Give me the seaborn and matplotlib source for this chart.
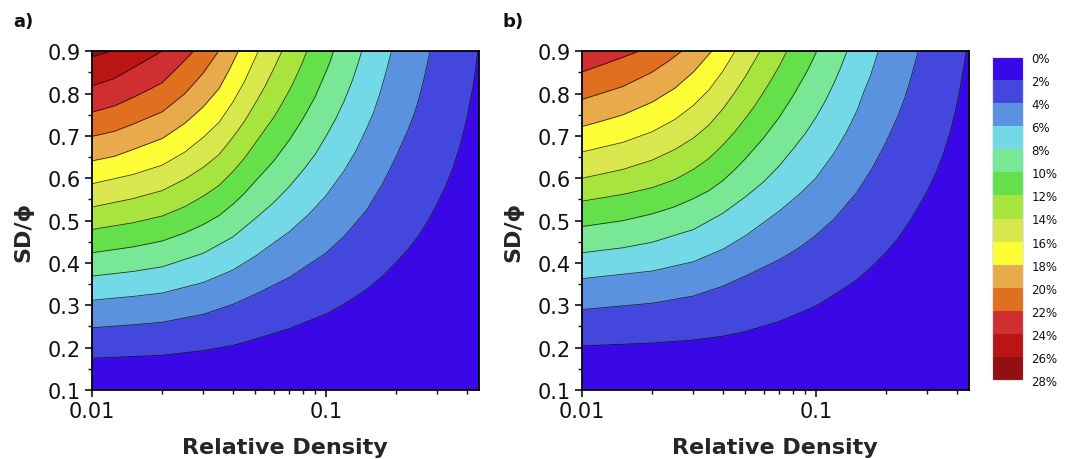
import matplotlib
matplotlib.use("Agg")
import matplotlib.pyplot as plt
import matplotlib.colors as mcolors
import matplotlib.ticker as mticker
from matplotlib.cm import ScalarMappable
import seaborn as sns

# ── Data ──────────────────────────────────────────────────────────────────────
LEVELS = list(range(0, 30, 2))          # 0 % ... 28 %
BAND_COLORS = [
    "#3a08e6", "#4447de", "#5b92e0", "#74d9e6", "#78e897", "#64e04a", "#a8e43e",
    "#d8e84c", "#fefe36", "#e8aa4a", "#e0701f", "#cf2f30", "#bb1414", "#921010",
]
X_MIN, X_MAX = 0.01, 0.452
Y_MIN, Y_MAX = 0.1, 0.9

# panel a) – one contour per level 2 % ... 26 %
A_X = [
    [0.01, 0.015, 0.02, 0.03, 0.04, 0.05, 0.07, 0.1, 0.12, 0.15, 0.175, 0.2, 0.225, 0.25,
     0.275, 0.3, 0.325, 0.35, 0.375, 0.4, 0.415, 0.43, 0.44, 0.447],
    [0.01, 0.015, 0.02, 0.03, 0.04, 0.05, 0.07, 0.1, 0.12, 0.15, 0.175, 0.2, 0.225, 0.24,
     0.25, 0.265, 0.279],
    [0.01, 0.015, 0.02, 0.03, 0.04, 0.05, 0.07, 0.085, 0.1, 0.12, 0.135, 0.15, 0.16, 0.17,
     0.18, 0.191],
    [0.01, 0.015, 0.02, 0.03, 0.04, 0.05, 0.06, 0.07, 0.08, 0.09, 0.1, 0.11, 0.12, 0.13,
     0.136, 0.1425],
    [0.01, 0.015, 0.02, 0.025, 0.03, 0.035, 0.04, 0.045, 0.05, 0.06, 0.07, 0.08, 0.09, 0.1,
     0.104, 0.108],
    [0.01, 0.015, 0.02, 0.025, 0.03, 0.035, 0.04, 0.045, 0.05, 0.055, 0.06, 0.065, 0.07,
     0.075, 0.079, 0.083],
    [0.01, 0.015, 0.02, 0.025, 0.03, 0.035, 0.04, 0.045, 0.05, 0.055, 0.06, 0.065],
    [0.01, 0.015, 0.02, 0.025, 0.03, 0.035, 0.04, 0.045, 0.0515],
    [0.01, 0.0125, 0.015, 0.02, 0.025, 0.03, 0.035, 0.0385, 0.0423],
    [0.01, 0.0125, 0.015, 0.02, 0.025, 0.03, 0.0348],
    [0.01, 0.0125, 0.015, 0.0175, 0.02, 0.0235, 0.0272],
    [0.01, 0.0125, 0.015, 0.0175, 0.0199],
    [0.01, 0.011, 0.012],
]
A_Y = [
    [0.175, 0.179, 0.182, 0.193, 0.205, 0.220, 0.245, 0.279, 0.303, 0.338, 0.369, 0.401,
     0.432, 0.465, 0.501, 0.540, 0.580, 0.625, 0.677, 0.738, 0.784, 0.828, 0.873, 0.9],
    [0.247, 0.254, 0.260, 0.279, 0.302, 0.326, 0.366, 0.423, 0.463, 0.526, 0.587, 0.651,
     0.715, 0.755, 0.787, 0.842, 0.9],
    [0.312, 0.321, 0.329, 0.354, 0.383, 0.416, 0.474, 0.516, 0.558, 0.618, 0.666, 0.719,
     0.755, 0.798, 0.846, 0.9],
    [0.369, 0.380, 0.391, 0.423, 0.461, 0.505, 0.543, 0.581, 0.619, 0.656, 0.698, 0.739,
     0.783, 0.831, 0.863, 0.9],
    [0.424, 0.438, 0.452, 0.471, 0.491, 0.512, 0.538, 0.565, 0.593, 0.641, 0.691, 0.741,
     0.792, 0.850, 0.873, 0.9],
    [0.479, 0.495, 0.511, 0.533, 0.558, 0.583, 0.615, 0.648, 0.683, 0.715, 0.744, 0.776,
     0.808, 0.842, 0.870, 0.9],
    [0.532, 0.552, 0.571, 0.598, 0.626, 0.656, 0.696, 0.735, 0.777, 0.817, 0.859, 0.9],
    [0.587, 0.609, 0.631, 0.662, 0.697, 0.732, 0.779, 0.829, 0.9],
    [0.641, 0.652, 0.668, 0.694, 0.730, 0.769, 0.812, 0.854, 0.9],
    [0.699, 0.711, 0.728, 0.757, 0.800, 0.849, 0.9],
    [0.756, 0.771, 0.791, 0.809, 0.826, 0.864, 0.9],
    [0.818, 0.836, 0.861, 0.882, 0.9],
    [0.887, 0.894, 0.9],
]

# panel b) – one contour per level 2 % ... 22 %
B_X = [
    [0.01, 0.02, 0.03, 0.04, 0.05, 0.07, 0.1, 0.12, 0.15, 0.175, 0.2, 0.225, 0.25, 0.275,
     0.3, 0.325, 0.35, 0.375, 0.4, 0.415, 0.43, 0.44],
    [0.01, 0.02, 0.03, 0.04, 0.05, 0.07, 0.085, 0.1, 0.12, 0.135, 0.15, 0.175, 0.2, 0.225,
     0.24, 0.25, 0.26, 0.274],
    [0.01, 0.02, 0.03, 0.04, 0.05, 0.07, 0.085, 0.1, 0.12, 0.135, 0.15, 0.16, 0.17, 0.178,
     0.185],
    [0.01, 0.015, 0.02, 0.03, 0.04, 0.05, 0.06, 0.07, 0.08, 0.09, 0.1, 0.11, 0.12, 0.128,
     0.136],
    [0.01, 0.015, 0.02, 0.025, 0.03, 0.035, 0.04, 0.045, 0.05, 0.06, 0.07, 0.08, 0.09,
     0.095, 0.101],
    [0.01, 0.015, 0.02, 0.025, 0.03, 0.035, 0.04, 0.045, 0.05, 0.055, 0.06, 0.065, 0.07,
     0.0752],
    [0.01, 0.015, 0.02, 0.025, 0.03, 0.035, 0.04, 0.045, 0.05, 0.0578],
    [0.01, 0.015, 0.02, 0.025, 0.03, 0.035, 0.04, 0.0452],
    [0.01, 0.0125, 0.015, 0.02, 0.025, 0.03, 0.0359],
    [0.01, 0.0125, 0.015, 0.02, 0.0235, 0.0267],
    [0.01, 0.0125, 0.015, 0.0175],
]
B_Y = [
    [0.204, 0.211, 0.218, 0.227, 0.238, 0.262, 0.298, 0.325, 0.360, 0.393, 0.425, 0.458,
     0.495, 0.533, 0.570, 0.610, 0.655, 0.707, 0.770, 0.815, 0.865, 0.9],
    [0.290, 0.305, 0.322, 0.345, 0.369, 0.408, 0.436, 0.465, 0.504, 0.537, 0.567, 0.625,
     0.686, 0.748, 0.789, 0.820, 0.853, 0.9],
    [0.363, 0.381, 0.403, 0.432, 0.464, 0.523, 0.562, 0.600, 0.660, 0.708, 0.759, 0.802,
     0.837, 0.870, 0.9],
    [0.424, 0.436, 0.449, 0.479, 0.517, 0.556, 0.592, 0.630, 0.669, 0.705, 0.743, 0.783,
     0.826, 0.862, 0.9],
    [0.486, 0.500, 0.516, 0.533, 0.552, 0.571, 0.594, 0.620, 0.646, 0.696, 0.745, 0.795,
     0.844, 0.869, 0.9],
    [0.546, 0.562, 0.578, 0.597, 0.621, 0.647, 0.678, 0.709, 0.741, 0.772, 0.804, 0.835,
     0.866, 0.9],
    [0.600, 0.621, 0.643, 0.668, 0.695, 0.726, 0.763, 0.802, 0.840, 0.9],
    [0.662, 0.685, 0.710, 0.739, 0.772, 0.809, 0.852, 0.9],
    [0.722, 0.737, 0.750, 0.780, 0.813, 0.851, 0.9],
    [0.786, 0.803, 0.817, 0.851, 0.877, 0.9],
    [0.851, 0.870, 0.886, 0.9],
]

# ── Style ─────────────────────────────────────────────────────────────────────
sns.set_style("ticks")
plt.rcParams["font.family"] = ["DejaVu Sans"]
plt.rcParams["text.color"] = "#111111"
plt.rcParams["xtick.color"] = "#111111"
plt.rcParams["ytick.color"] = "#111111"

W, H = 1067, 460
fig = plt.figure(figsize=(W / 100, H / 100), dpi=100)
fig.patch.set_facecolor("white")


def px_axes(left, top, right, bottom):
    return [left / W, 1 - bottom / H, (right - left) / W, (bottom - top) / H]


ax_a = fig.add_axes(px_axes(91.7, 52.3, 479, 391))
ax_b = fig.add_axes(px_axes(581.7, 52.3, 969, 391))
cax = fig.add_axes(px_axes(992, 58, 1023, 381))


def draw_panel(ax, xs_list, ys_list):
    ax.set_xscale("log")
    ax.set_facecolor(BAND_COLORS[0])
    # nested filled regions, each one left of / above its contour
    for k, (xs, ys) in enumerate(zip(xs_list, ys_list), start=1):
        ax.fill_betweenx(ys, X_MIN, xs, color=BAND_COLORS[k], lw=0, zorder=1)
    for xs, ys in zip(xs_list, ys_list):
        sns.lineplot(x=xs, y=ys, sort=False, estimator=None, color="black",
                     lw=0.6, alpha=0.75, ax=ax, zorder=2)
    ax.set_xlim(X_MIN, X_MAX)
    ax.set_ylim(Y_MIN, Y_MAX)

    ax.xaxis.set_major_locator(mticker.FixedLocator([0.01, 0.1]))
    ax.xaxis.set_major_formatter(mticker.FixedFormatter(["0.01", "0.1"]))
    ax.xaxis.set_minor_locator(mticker.LogLocator(base=10, subs=range(2, 10)))
    ax.xaxis.set_minor_formatter(mticker.NullFormatter())
    ax.yaxis.set_major_locator(mticker.MultipleLocator(0.1))
    ax.yaxis.set_minor_locator(mticker.MultipleLocator(0.05))
    ax.yaxis.set_major_formatter(mticker.FormatStrFormatter("%.1f"))

    ax.tick_params(which="major", direction="out", length=5, width=1.2,
                   labelsize=15, pad=3, top=False, right=False)
    ax.tick_params(which="minor", direction="out", length=3, width=1.0,
                   top=False, right=False)
    for sp in ax.spines.values():
        sp.set_linewidth(1.3)
        sp.set_color("black")
        sp.set_zorder(5)

    ax.set_xlabel("Relative Density", fontsize=16, fontweight="bold")
    ax.set_ylabel("SD/ϕ", fontsize=16, fontweight="bold")
    ax.xaxis.set_label_coords(0.5, -0.14)
    ax.yaxis.set_label_coords(-0.15, 0.47)


draw_panel(ax_a, A_X, A_Y)
draw_panel(ax_b, B_X, B_Y)

fig.text(13 / W, 1 - 22 / H, "a)", fontsize=13, fontweight="bold", va="center")
fig.text(503 / W, 1 - 22 / H, "b)", fontsize=13, fontweight="bold", va="center")

# ── Colour bar ────────────────────────────────────────────────────────────────
cmap = mcolors.ListedColormap(BAND_COLORS)
norm = mcolors.BoundaryNorm(LEVELS, cmap.N)
cb = fig.colorbar(ScalarMappable(norm=norm, cmap=cmap), cax=cax, ticks=LEVELS)
cax.invert_yaxis()
cb.set_ticklabels([f"{v}%" for v in LEVELS])
cax.tick_params(length=0, labelsize=8.5, pad=6)
cb.outline.set_edgecolor("#dde6f4")
cb.outline.set_linewidth(0.8)

fig.savefig("out.png", dpi=100)
